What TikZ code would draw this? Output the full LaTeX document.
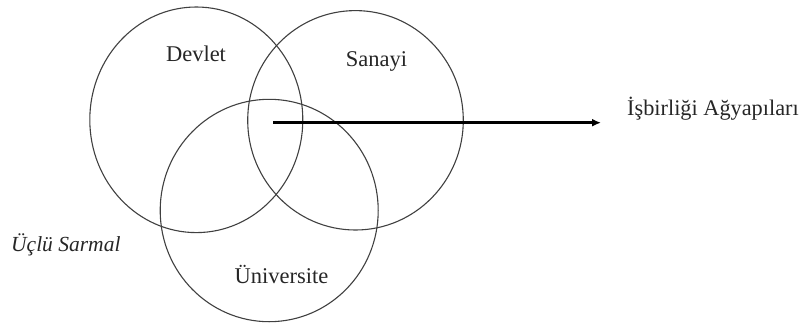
\documentclass[tikz,border=0pt]{standalone}
\usepackage{fontspec}
\setmainfont{Liberation Serif}
\usetikzlibrary{arrows.meta}
\begin{document}
\begin{tikzpicture}[x=1pt,y=-1pt,
  ring/.style={draw=black!75,line width=1.1pt},
  lbl/.style={anchor=base,inner sep=0pt,text=black!85,font=\fontsize{22.5}{26}\selectfont},
  flow/.style={line width=2.6pt,-{Latex[length=9pt,width=8pt]}}]
\useasboundingbox (0,0) rectangle (803,327);
\draw[ring] (196.3,119.8) ellipse [x radius=106.5,y radius=112.8];
\draw[ring] (355.5,120.3) ellipse [x radius=107.8,y radius=109.7];
\draw[ring] (269.2,210.5) ellipse [x radius=109,y radius=111.2];
\node[lbl] (devlet) at (196,61.7) {Devlet};
\node[lbl] (sanayi) at (376.5,66.7) {Sanayi};
\node[lbl] (univ) at (281.5,283) {Üniversite};
\node[lbl,anchor=base west,font=\fontsize{21.5}{26}\selectfont\itshape] (ucl) at (11,251.5) {Üçlü Sarmal};
\coordinate (start) at (273,122.7);
\node[lbl,anchor=base west,font=\fontsize{22.3}{26}\selectfont] (isb) at (627,115.5) {İşbirliği Ağyapıları};
\coordinate (tip) at (601,122.7);
\draw[flow] (start) -- (tip);
\end{tikzpicture}
\end{document}
